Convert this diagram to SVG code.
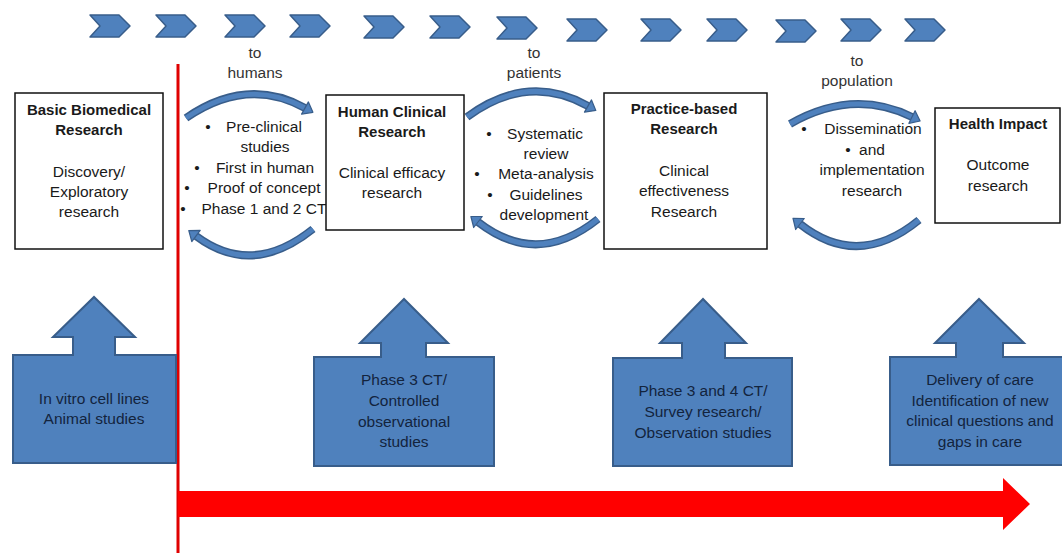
<svg xmlns="http://www.w3.org/2000/svg" width="1062" height="553" viewBox="0 0 1062 553">
<style>
text{font-family:"Liberation Sans",Arial,sans-serif;font-size:15.5px;fill:#1a1a1a;text-anchor:middle}
.b{font-weight:bold;font-size:15px}
.lbl{fill:#333}
.blk text{fill:#13243d}
.chev{fill:#4F81BD;stroke:#385D8A;stroke-width:1.5;stroke-linejoin:round}
.box{fill:#fff;stroke:#111;stroke-width:1.5}
.callout{fill:#4F81BD;stroke:#385D8A;stroke-width:2}
.arcO{fill:none;stroke:#385D8A;stroke-width:8;stroke-linecap:butt}
.arcI{fill:none;stroke:#4F81BD;stroke-width:5;stroke-linecap:butt}
.head{fill:#4F81BD;stroke:#385D8A;stroke-width:1.2;stroke-linejoin:round}
</style>
<defs>
<path id="chv" d="M0,0 H29 L40,11 L29,22 H0 L10,11 Z"/>
</defs>
<g id="chevrons">
<use href="#chv" class="chev" x="90" y="15"/>
<use href="#chv" class="chev" x="156" y="15"/>
<use href="#chv" class="chev" x="225" y="15"/>
<use href="#chv" class="chev" x="290" y="15"/>
<use href="#chv" class="chev" x="364" y="16"/>
<use href="#chv" class="chev" x="430" y="16"/>
<use href="#chv" class="chev" x="497" y="17"/>
<use href="#chv" class="chev" x="567" y="19"/>
<use href="#chv" class="chev" x="641" y="19"/>
<use href="#chv" class="chev" x="707" y="19"/>
<use href="#chv" class="chev" x="776" y="20"/>
<use href="#chv" class="chev" x="841" y="19"/>
<use href="#chv" class="chev" x="905" y="19"/>
</g>
<g id="timeline">
<line x1="178" y1="64" x2="178" y2="553" stroke="#E00000" stroke-width="3"/>
<path d="M178,491 H1003 V478 L1030,504 L1003,530 V517 H178 Z" fill="#FF0000"/>
</g>
<g id="labels" class="lbl">
<text class="lbl" x="255" y="58">to</text>
<text class="lbl" x="255" y="78">humans</text>
<text class="lbl" x="534" y="58">to</text>
<text class="lbl" x="534" y="78">patients</text>
<text class="lbl" x="857" y="66">to</text>
<text class="lbl" x="857" y="86">population</text>
</g>
<g id="connectors">
<path class="arcO" d="M186,118 Q247,76 305,108"/>
<path class="arcI" d="M186,118 Q247,76 305,108"/>
<polygon class="head" points="301.6,114.1 308.4,101.9 312.9,112.3"/>
<path class="arcO" d="M313,229 Q252,278 196,236"/>
<path class="arcI" d="M313,229 Q252,278 196,236"/>
<polygon class="head" points="200.2,230.4 191.8,241.6 188.8,230.6"/>
<path class="arcO" d="M467,117 Q528,72 588,106"/>
<path class="arcI" d="M467,117 Q528,72 588,106"/>
<polygon class="head" points="584.5,112.1 591.5,99.9 595.8,110.4"/>
<path class="arcO" d="M598,219 Q537,268 478,222"/>
<path class="arcI" d="M598,219 Q537,268 478,222"/>
<polygon class="head" points="482.3,216.5 473.7,227.5 470.9,216.5"/>
<path class="arcO" d="M790,124 Q853,88 912,117"/>
<path class="arcI" d="M790,124 Q853,88 912,117"/>
<polygon class="head" points="908.9,123.3 915.1,110.7 920.1,121"/>
<path class="arcO" d="M919,220 Q858,270 800,224"/>
<path class="arcI" d="M919,220 Q858,270 800,224"/>
<polygon class="head" points="804.3,218.5 795.7,229.5 793,218.4"/>
</g>
<g id="list-humans">
<text x="208" y="132">•</text><text x="264" y="132">Pre-clinical</text>
<text x="265" y="152">studies</text>
<text x="197" y="173">•</text><text x="265" y="173">First in human</text>
<text x="187" y="193">•</text><text x="264" y="193">Proof of concept</text>
<text x="183" y="214">•</text><text x="264" y="214">Phase 1 and 2 CT</text>
</g>
<g id="list-patients">
<text x="489" y="139">•</text><text x="545" y="139">Systematic</text>
<text x="546" y="159">review</text>
<text x="477" y="179">•</text><text x="546" y="179">Meta-analysis</text>
<text x="490" y="200">•</text><text x="546" y="200">Guidelines</text>
<text x="544" y="220">development</text>
</g>
<g id="list-population">
<text x="804" y="134">•</text><text x="873" y="134">Dissemination</text>
<text x="848" y="155">•</text><text x="872" y="155">and</text>
<text x="872" y="175">implementation</text>
<text x="872" y="196">research</text>
</g>
<g id="basic">
<rect class="box" x="15" y="93" width="148" height="156"/>
<text class="b" x="89" y="115">Basic Biomedical</text>
<text class="b" x="89" y="135">Research</text>
<text x="89" y="177">Discovery/</text>
<text x="89" y="197">Exploratory</text>
<text x="89" y="217">research</text>
</g>
<g id="human-clinical">
<rect class="box" x="326" y="95" width="138" height="135"/>
<text class="b" x="392" y="117">Human Clinical</text>
<text class="b" x="392" y="137">Research</text>
<text x="392" y="178">Clinical efficacy</text>
<text x="392" y="198">research</text>
</g>
<g id="practice">
<rect class="box" x="604" y="93" width="163" height="156"/>
<text class="b" x="684" y="114">Practice-based</text>
<text class="b" x="684" y="134">Research</text>
<text x="684" y="176">Clinical</text>
<text x="684" y="196">effectiveness</text>
<text x="684" y="217">Research</text>
</g>
<g id="health">
<rect class="box" x="935" y="108" width="125" height="115"/>
<text class="b" x="998" y="129">Health Impact</text>
<text x="998" y="170">Outcome</text>
<text x="998" y="191">research</text>
</g>
<g id="invitro" class="blk">
<path class="callout" d="M13,355 H73 V337 H53 L94,297 L135,337 H115 V355 H176 V463 H13 Z"/>
<text x="94" y="404">In vitro cell lines</text>
<text x="94" y="424">Animal studies</text>
</g>
<g id="phase3" class="blk">
<path class="callout" d="M314,357 H381 V343 H360 L404,299 L448,343 H426 V357 H494 V466 H314 Z"/>
<text x="404" y="385">Phase 3 CT/</text>
<text x="404" y="406">Controlled</text>
<text x="404" y="427">observational</text>
<text x="404" y="447">studies</text>
</g>
<g id="phase34" class="blk">
<path class="callout" d="M613,358 H682 V343 H660 L703,299 L746,343 H725 V358 H792 V466 H613 Z"/>
<text x="703" y="396">Phase 3 and 4 CT/</text>
<text x="703" y="417">Survey research/</text>
<text x="703" y="438">Observation studies</text>
</g>
<g id="delivery" class="blk">
<path class="callout" d="M890,357 H956 V343 H935 L979,299 L1024,343 H1003 V357 H1070 V465 H890 Z"/>
<text x="980" y="385">Delivery of care</text>
<text x="980" y="406">Identification of new</text>
<text x="980" y="426">clinical questions and</text>
<text x="980" y="447">gaps in care</text>
</g>
</svg>
